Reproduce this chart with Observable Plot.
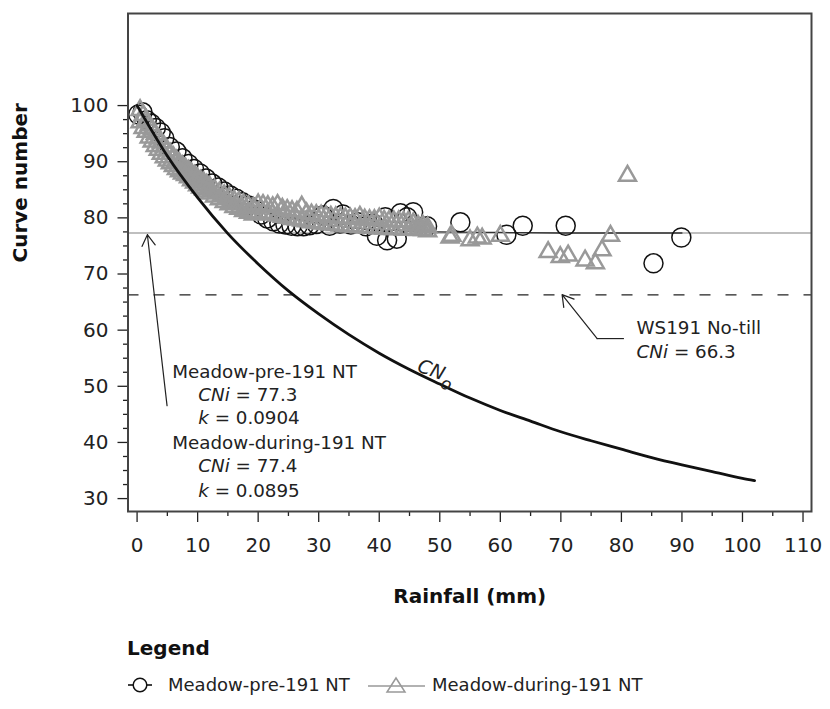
<!DOCTYPE html>
<html><head><meta charset="utf-8">
<script src="https://cdn.jsdelivr.net/npm/d3@7"></script>
<script src="https://cdn.jsdelivr.net/npm/@observablehq/plot@0.6"></script>
<style>
html,body{margin:0;padding:0;background:#fff;}
body{width:830px;height:709px;overflow:hidden;font-family:"DejaVu Sans",sans-serif;color:#222;}
#chart svg{display:block;}
#legend svg{display:block;}
</style></head><body>
<div id="chart"></div>
<div id="legend"></div>
<script>
// ---------- data ----------
// Meadow-during-191 NT (triangles): dense band, read as upper / lower edge of the band
const bandP  = [0.5,1.0,1.5,2.0,2.5,3.0,3.5,4.0,4.5,5.0,5.5,6.0,6.5,7.0,7.5,8.0,8.5,9.0,9.5,10.0,10.5,11.0,11.5,12.0,12.8,13.6,14.4,15.2,16.0,16.8,17.6,18.4,19.2,20.0,20.8,21.6,22.4,23.2,24.0,24.8,25.6,26.4,27.2,28.0,28.8,29.6,30.4,31.2,32.0,32.8,33.6,34.4,35.2,36.0,36.8,37.6,38.4,39.2,40.0,40.8,41.6,42.4,43.2,44.0,44.8,45.6,46.4,47.2,48.0];
const bandHi = [99.2,98.3,97.4,96.5,95.7,94.9,94.1,93.4,92.7,92.0,91.4,90.8,90.2,89.7,89.2,88.8,88.4,87.9,87.5,87.0,86.6,86.3,85.9,85.5,85.0,84.5,84.0,83.6,83.1,82.8,82.4,82.1,81.8,82.4,82.3,82.1,81.9,82.3,81.6,81.4,81.2,81.1,82.0,80.8,80.6,80.5,80.4,80.3,80.2,80.1,80.0,79.9,79.9,79.8,80.2,79.7,79.6,79.6,79.9,79.5,79.4,79.4,79.4,79.3,79.3,79.0,78.6,78.6,78.3];
const bandLo = [97.0,96.0,95.3,94.3,93.6,92.8,92.1,91.4,90.8,90.2,89.7,89.2,88.7,88.3,87.9,87.6,87.2,86.7,86.3,85.8,85.4,85.1,84.7,84.3,83.8,83.3,82.8,82.4,81.9,81.6,81.2,80.9,80.6,81.0,80.9,80.8,80.6,80.4,80.2,80.0,79.8,79.7,79.5,79.4,79.2,79.1,79.0,78.9,78.8,78.7,78.6,78.5,78.5,78.4,78.3,78.3,78.2,78.2,78.1,78.1,78.0,78.0,78.0,77.9,77.9,77.9,77.8,77.8,77.6];
// Meadow-during-191 NT (triangles): scattered events beyond the band
const duringP  = [51.7,52.0,55.0,56.2,57.0,60.0,67.9,69.9,71.2,74.0,75.7,76.8,78.2,81.0];
const duringCN = [76.5,76.8,76.0,76.5,76.3,76.8,73.9,73.0,73.3,72.4,71.9,74.2,76.8,87.5];
// Meadow-pre-191 NT (circles)
const preP  = [0.2,0.9,1.6,2.3,3.1,3.9,4.5,5.4,6.5,7.5,8.5,9.4,10.4,11.4,12.4,13.4,14.4,15.4,16.4,17.4,18.4,19.4,20.5,21.5,22.5,23.5,24.5,25.5,26.5,27.5,28.5,29.6,30.7,31.8,32.4,33.5,34.0,35.3,36.5,37.8,39.0,39.6,41.0,41.3,42.9,43.5,44.6,45.6,47.9,53.4,61.0,63.7,70.8,85.3,89.9];
const preCN = [98.4,98.8,97.4,96.8,96.0,95.2,94.2,92.6,91.8,90.6,89.6,88.7,87.9,87.0,86.1,85.4,84.7,84.0,83.4,82.8,82.2,81.5,80.6,79.9,79.4,79.0,78.8,78.6,78.5,78.5,78.7,78.9,80.4,78.6,81.6,79.0,80.6,78.8,79.2,78.5,79.0,76.8,80.1,76.0,76.3,80.8,80.1,81.0,78.5,79.2,77.0,78.6,78.6,71.9,76.5];
// fitted curve for Meadow-pre-191 NT
const preFitP  = [0,2,4,6,8,10,12,15,18,21,25,30,35,40,45,50,60,70,80,90];
const preFitCN = [100,96.4,93.4,90.9,88.8,87.1,85.6,83.8,82.4,81.2,80.1,79.0,78.3,77.9,77.6,77.5,77.4,77.3,77.3,77.3];
// CNo curve
const cnoP  = [0,2,5,10,15,20,25,30,35,40,45,50,55,60,65,70,75,80,85,90,95,100,102];
const cnoCN = [100,96.3,91.0,83.6,77.2,71.8,67.0,62.9,59.2,55.9,53.0,50.4,47.9,45.7,43.8,41.9,40.3,38.8,37.3,36.0,34.8,33.6,33.2];
const cniMeadow = 77.3;
const cniNoTill = 66.3;
const xMajor = [0,10,20,30,40,50,60,70,80,90,100,110];
const xMinor = [5,15,25,35,45,55,65,75,85,95,105];
const yMajor = [30,40,50,60,70,80,90,100];
const yMinor = [32.5,35,37.5,42.5,45,47.5,52.5,55,57.5,62.5,65,67.5,72.5,75,77.5,82.5,85,87.5,92.5,95,97.5];
const annoLines = ["Meadow-pre-191 NT","CNi = 77.3","k = 0.0904","Meadow-during-191 NT","CNi = 77.4","k = 0.0895"];
const noTillLines = ["WS191 No-till","CNi = 66.3"];
const seriesNames = ["Meadow-pre-191 NT","Meadow-during-191 NT"];

// ---------- tables ----------
const during = [
  ...bandP.map((p,i)=>({P:p, CN:bandHi[i]})),
  ...bandP.map((p,i)=>({P:p, CN:bandLo[i]})),
  ...duringP.map((p,i)=>({P:p, CN:duringCN[i]}))
];
const pre = preP.map((p,i)=>({P:p, CN:preCN[i]}));
const preFit = preFitP.map((p,i)=>({P:p, CN:preFitCN[i]}));
const cno = cnoP.map((p,i)=>({P:p, CN:cnoCN[i]}));

const annoX = [5.8,10.1,10.1,5.8,10.1,10.1];
const annoY = [52.6,48.35,44.4,39.95,35.7,31.4];

const plot = Plot.plot({
  width: 830, height: 625,
  marginLeft: 127.5, marginRight: 19, marginTop: 13, marginBottom: 114,
  x: {domain: [-1.5, 111.4], label: null},
  y: {domain: [27.7, 116.4], label: null},
  style: {fontFamily: '"DejaVu Sans", sans-serif', fontSize: "20px", color: "#222", background: "#fff", overflow: "visible"},
  marks: [
    Plot.ruleY([cniMeadow], {stroke: "#aaa", strokeWidth: 1.6}),
    Plot.ruleY([cniNoTill], {stroke: "#222", strokeWidth: 1.3, strokeDasharray: "11,15"}),
    Plot.line(preFit, {x: "P", y: "CN", stroke: "#333", strokeWidth: 1.3, curve: "monotone-x"}),
    Plot.dot(pre, {x: "P", y: "CN", r: 9.5, stroke: "#111", strokeWidth: 1.5, fill: "none"}),
    Plot.dot(during, {x: "P", y: "CN", symbol: "triangle", r: 6.3, stroke: "#999", strokeWidth: 2.5, fill: "none"}),
    Plot.line(cno, {x: "P", y: "CN", stroke: "#111", strokeWidth: 2.8, curve: "monotone-x"}),
    // annotations
    Plot.arrow([0], {x1: 4.95, y1: 46.56, x2: 1.70, y2: 77.0, stroke: "#222", strokeWidth: 1.2, headLength: 16, headAngle: 62}),
    Plot.ruleY([58.5], {x1: 76.0, x2: 80.5, stroke: "#222", strokeWidth: 1.2}),
    Plot.arrow([0], {x1: 76.0, y1: 58.5, x2: 70.2, y2: 66.33, stroke: "#222", strokeWidth: 1.2, headLength: 16, headAngle: 62}),
    Plot.text(annoLines, {x: (d,i)=>annoX[i], y: (d,i)=>annoY[i], text: d=>d, textAnchor: "start", lineAnchor: "middle", fontSize: 18.3, fill: "#222"}),
    Plot.text(noTillLines, {x: 82.5, y: (d,i)=>[60.28,56.0][i], text: d=>d, textAnchor: "start", lineAnchor: "middle", fontSize: 18.3, fill: "#222"}),
    Plot.text(["CNo"], {x: 49.4, y: 52.6, text: d=>d, textAnchor: "middle", lineAnchor: "middle", rotate: 20, fontSize: 19, fill: "#222"}),
    // axis titles
    Plot.text(["Rainfall (mm)"], {frameAnchor: "bottom", lineAnchor: "middle", dy: 84.6, text: d=>d, fontWeight: "bold", fontSize: 20, fill: "#111"}),
    Plot.text(["Curve number"], {frameAnchor: "left", lineAnchor: "middle", rotate: -90, dx: -107, text: d=>d, fontWeight: "bold", fontSize: 20, fill: "#111"}),
    // axes
    Plot.axisX(xMajor, {anchor: "bottom", tickSize: 11, tickPadding: 15, label: null, stroke: "#222", strokeWidth: 1.3}),
    Plot.axisX(xMinor, {anchor: "bottom", tickSize: 5, tickFormat: () => "", label: null, stroke: "#222", strokeWidth: 1.3}),
    Plot.axisY(yMajor, {anchor: "left", tickSize: 10, tickPadding: 9.5, label: null, stroke: "#222", strokeWidth: 1.3}),
    Plot.axisY(yMinor, {anchor: "left", tickSize: 4.5, tickFormat: () => "", label: null, stroke: "#222", strokeWidth: 1.3}),
    Plot.frame({stroke: "#444", strokeWidth: 2})
  ]
});
document.getElementById("chart").appendChild(plot);

// italic parts of annotation texts
d3.select(plot).selectAll("text").each(function() {
  const t = this.textContent;
  const m = t.match(/^(CNi|k)( = .*)$/);
  const sel = d3.select(this);
  if (m) {
    sel.text(null);
    sel.append("tspan").attr("font-style", "italic").text(m[1]);
    sel.append("tspan").text(m[2]);
  } else if (t === "CNo") {
    sel.text(null);
    sel.attr("font-style", "italic");
    sel.append("tspan").text("CN");
    sel.append("tspan").attr("dy", "0.45em").attr("font-size", "17").text("o");
  }
});

// ---------- legend ----------
const lg = d3.select("#legend").append("svg").attr("width", 830).attr("height", 84)
  .style("font-family", '"DejaVu Sans", sans-serif');
lg.append("text").attr("x", 127).attr("y", 30).attr("font-size", 20).attr("font-weight", "bold").attr("fill", "#111").text("Legend");
lg.append("line").attr("x1", 128).attr("x2", 152).attr("y1", 60).attr("y2", 60).attr("stroke", "#111").attr("stroke-width", 1.6);
lg.append("circle").attr("cx", 140).attr("cy", 60).attr("r", 6.8).attr("fill", "#fff").attr("stroke", "#111").attr("stroke-width", 1.5);
lg.append("text").attr("x", 168).attr("y", 66).attr("font-size", 18).attr("fill", "#222").text(seriesNames[0]);
lg.append("line").attr("x1", 368).attr("x2", 425).attr("y1", 61).attr("y2", 61).attr("stroke", "#999").attr("stroke-width", 1.6);
lg.append("path").attr("d", "M396,53 L405,67 L387,67 Z").attr("fill", "none").attr("stroke", "#999").attr("stroke-width", 1.5);
lg.append("text").attr("x", 432).attr("y", 66).attr("font-size", 18).attr("fill", "#222").text(seriesNames[1]);
</script></body></html>
